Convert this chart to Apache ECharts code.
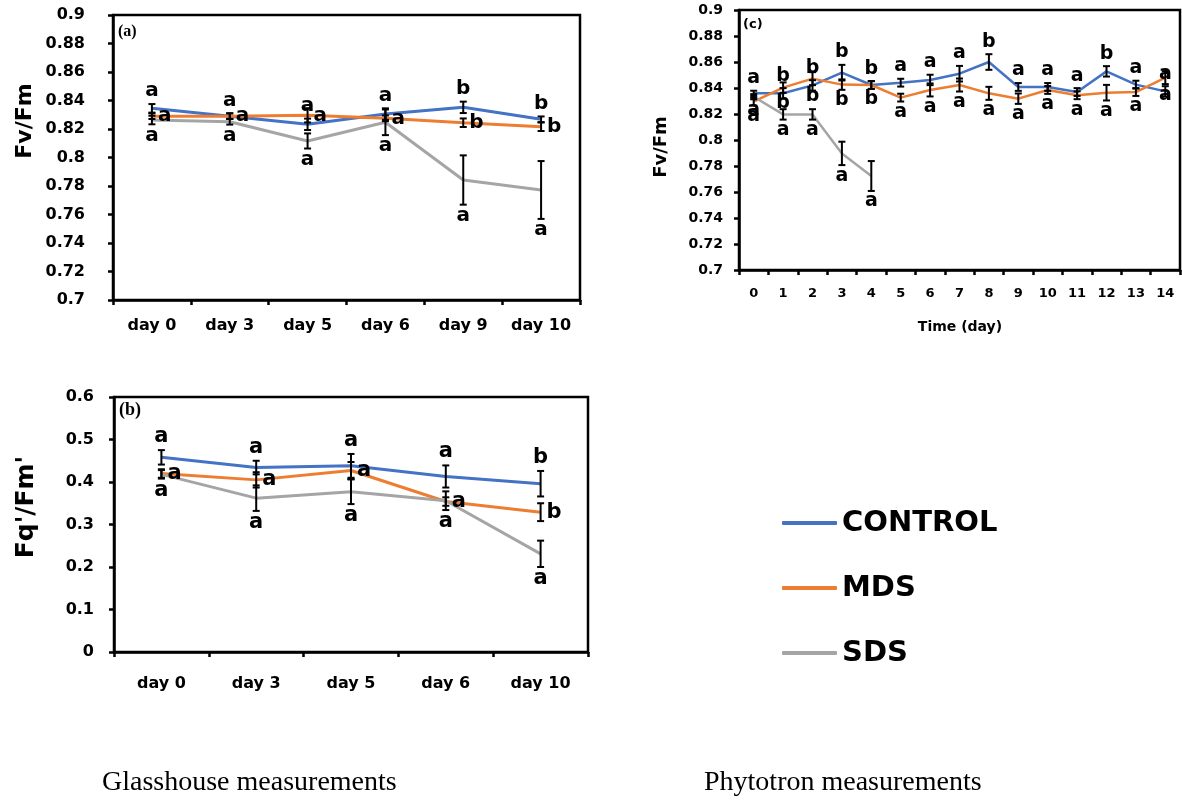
<!DOCTYPE html>
<html><head><meta charset="utf-8">
<script src="https://cdn.jsdelivr.net/npm/echarts@6/dist/echarts.min.js"></script>
<style>html,body{margin:0;padding:0;background:#fff}#c{width:1182px;height:800px}</style>
</head><body><div id="c"></div>
<script>
// ---------- Panel (a): Glasshouse Fv/Fm ----------
const catsA = ['day 0','day 3','day 5','day 6','day 9','day 10'];
const ctrlA = [0.8345, 0.829, 0.8233, 0.8305, 0.8352, 0.8268];
const mdsA  = [0.829, 0.829, 0.8296, 0.8275, 0.8244, 0.8216];
const sdsA  = [0.8263, 0.8251, 0.8116, 0.8247, 0.7842, 0.7772];
const ctrlErrA = [0.003, 0.002, 0.004, 0.004, 0.004, 0.002];
const mdsErrA  = [0.002, 0.002, 0.005, 0.002, 0.003, 0.003];
const sdsErrA  = [0.003, 0.002, 0.0053, 0.009, 0.0173, 0.0203];
const ctrlLetA = ['a','a','a','a','b','b'];
const mdsLetA  = ['a','a','a','a','b','b'];
const sdsLetA  = ['a','a','a','a','a','a'];

// ---------- Panel (b): Glasshouse Fq'/Fm' ----------
const catsB = ['day 0','day 3','day 5','day 6','day 10'];
const ctrlB = [0.458, 0.434, 0.438, 0.413, 0.396];
const mdsB  = [0.420, 0.405, 0.427, 0.354, 0.329];
const sdsB  = [0.418, 0.362, 0.377, 0.356, 0.231];
const ctrlErrB = [0.017, 0.016, 0.028, 0.026, 0.030];
const mdsErrB  = [0.010, 0.018, 0.020, 0.010, 0.021];
const sdsErrB  = [0.010, 0.030, 0.029, 0.022, 0.031];
const ctrlLetB = ['a','a','a','a','b'];
const mdsLetB  = ['a','a','a','a','b'];
const sdsLetB  = ['a','a','a','a','a'];

// ---------- Panel (c): Phytotron Fv/Fm ----------
const catsC = ['0','1','2','3','4','5','6','7','8','9','10','11','12','13','14'];
const ctrlC = [0.8359, 0.8359, 0.842, 0.8518, 0.8423, 0.8441, 0.8462, 0.851, 0.86, 0.8408, 0.8408, 0.8369, 0.8528, 0.8426, 0.8374];
const mdsC  = [0.8295, 0.8403, 0.8472, 0.8426, 0.8423, 0.8326, 0.8385, 0.8423, 0.8359, 0.8318, 0.8385, 0.8344, 0.8364, 0.8369, 0.848];
const sdsC  = [0.8333, 0.8197, 0.8197, 0.7897, 0.7723];
const ctrlErrC = [0.002, 0.004, 0.004, 0.006, 0.003, 0.003, 0.004, 0.006, 0.006, 0.003, 0.003, 0.003, 0.004, 0.003, 0.004];
const mdsErrC  = [0.003, 0.004, 0.005, 0.004, 0.003, 0.003, 0.005, 0.005, 0.005, 0.004, 0.003, 0.003, 0.006, 0.003, 0.005];
const sdsErrC  = [0.002, 0.004, 0.004, 0.009, 0.0115];
const ctrlLetC = ['a','b','b','b','b','a','a','a','b','a','a','a','b','a','a'];
const mdsLetC  = ['a','b','b','b','b','a','a','a','a','a','a','a','a','a','a'];
const sdsLetC  = ['a','a','a','a','a'];

const seriesNames = ['CONTROL','MDS','SDS'];
const colors = ['#4472C4','#ED7D31','#A5A5A5'];
const FF = "'DejaVu Sans', sans-serif";

function fmt(v){ return String(+(+v).toFixed(2)); }

function xAx(grid, cats, fs, margin){
  return {type:'category', gridIndex:grid, data:cats, boundaryGap:true,
    axisLine:{lineStyle:{color:'#000', width:2.5}},
    axisTick:{show:true, inside:false, length:5, alignWithLabel:false, lineStyle:{color:'#000', width:2.5}},
    axisLabel:{color:'#000', fontFamily:FF, fontWeight:'bold', fontSize:fs, margin:margin, interval:0},
    splitLine:{show:false}};
}
function yAx(grid, min, max, interval, fs, margin){
  return {type:'value', gridIndex:grid, min:min, max:max, interval:interval,
    axisLine:{show:true, lineStyle:{color:'#000', width:2.5}},
    axisTick:{show:true, inside:false, length:5, lineStyle:{color:'#000', width:2.5}},
    axisLabel:{color:'#000', fontFamily:FF, fontWeight:'bold', fontSize:fs, margin:margin, formatter:fmt},
    splitLine:{show:false}};
}
function lineS(name, grid, vals, color, w){
  return {type:'line', name:name, xAxisIndex:grid, yAxisIndex:grid, data:vals,
    showSymbol:false, symbol:'none', lineStyle:{color:color, width:w}, itemStyle:{color:color}, z:3, silent:true};
}
function errS(grid, vals, errs, letters, place, fs){
  return {type:'custom', xAxisIndex:grid, yAxisIndex:grid, silent:true, z:10,
    encode:{x:0, y:1},
    data: vals.map((v,i)=>[i, v, errs[i]]),
    renderItem: function(params, api){
      const i = api.value(0), v = api.value(1), e = api.value(2);
      const t = api.coord([i, v+e]), b = api.coord([i, v-e]), m = api.coord([i, v]);
      const x = t[0], cap = 3.5;
      const ls = {stroke:'#000', lineWidth:2};
      const ch = [
        {type:'line', shape:{x1:x,y1:t[1],x2:x,y2:b[1]}, style:ls},
        {type:'line', shape:{x1:x-cap,y1:t[1],x2:x+cap,y2:t[1]}, style:ls},
        {type:'line', shape:{x1:x-cap,y1:b[1],x2:x+cap,y2:b[1]}, style:ls}
      ];
      let tx, ty, ta, tv;
      if (place === 'top'){ tx = x; ty = t[1]-3; ta='center'; tv='bottom'; }
      else if (place === 'bottom'){ tx = x; ty = b[1]+1; ta='center'; tv='top'; }
      else { tx = x+6; ty = m[1]; ta='left'; tv='middle'; }
      ch.push({type:'text', x:tx, y:ty, style:{text:letters[i], fill:'#000',
        fontFamily:FF, fontWeight:'bold', fontSize:fs, align:ta, verticalAlign:tv}});
      return {type:'group', children:ch};
    }};
}

const chart = echarts.init(document.getElementById('c'), null, {renderer:'canvas'});
const gridStyle = {show:true, borderColor:'#000', borderWidth:2.5, backgroundColor:'transparent', containLabel:false};
chart.setOption({
  animation:false,
  backgroundColor:'#fff',
  grid:[
    Object.assign({left:113, top:15, width:467, height:285}, gridStyle),
    Object.assign({left:114, top:397, width:474, height:255}, gridStyle),
    Object.assign({left:739, top:10, width:441, height:260}, gridStyle)
  ],
  xAxis:[ xAx(0, catsA, 16, 18), xAx(1, catsB, 16, 24), xAx(2, catsC, 13, 17) ],
  yAxis:[ yAx(0, 0.7, 0.9, 0.02, 16, 28), yAx(1, 0, 0.6, 0.1, 16, 20), yAx(2, 0.7, 0.9, 0.02, 14, 16) ],
  legend:{data:seriesNames, orient:'vertical', left:782, top:506, padding:0, itemGap:31,
    icon:'roundRect', itemWidth:55, itemHeight:4,
    textStyle:{color:'#000', fontFamily:FF, fontWeight:'bold', fontSize:29, lineHeight:34}},
  series:[
    lineS('CONTROL',0,ctrlA,colors[0],3), lineS('MDS',0,mdsA,colors[1],3), lineS('SDS',0,sdsA,colors[2],3),
    lineS('CONTROL',1,ctrlB,colors[0],3), lineS('MDS',1,mdsB,colors[1],3), lineS('SDS',1,sdsB,colors[2],3),
    lineS('CONTROL',2,ctrlC,colors[0],2.5), lineS('MDS',2,mdsC,colors[1],2.5), lineS('SDS',2,sdsC,colors[2],2.5),
    errS(0, ctrlA, ctrlErrA, ctrlLetA, 'top', 20),
    errS(0, mdsA, mdsErrA, mdsLetA, 'right', 20),
    errS(0, sdsA, sdsErrA, sdsLetA, 'bottom', 20),
    errS(1, ctrlB, ctrlErrB, ctrlLetB, 'top', 21),
    errS(1, mdsB, mdsErrB, mdsLetB, 'right', 21),
    errS(1, sdsB, sdsErrB, sdsLetB, 'bottom', 21),
    errS(2, ctrlC, ctrlErrC, ctrlLetC, 'top', 19),
    errS(2, mdsC, mdsErrC, mdsLetC, 'bottom', 19),
    errS(2, sdsC, sdsErrC, sdsLetC, 'bottom', 19)
  ],
  graphic:[
    {type:'text', x:25, y:121, rotation:Math.PI/2, style:{text:'Fv/Fm', fill:'#000', fontFamily:FF, fontWeight:'bold', fontSize:22, align:'center', verticalAlign:'middle'}},
    {type:'text', x:26, y:507, rotation:Math.PI/2, style:{text:"Fq'/Fm'", fill:'#000', fontFamily:FF, fontWeight:'bold', fontSize:25, align:'center', verticalAlign:'middle'}},
    {type:'text', x:661, y:147, rotation:Math.PI/2, style:{text:'Fv/Fm', fill:'#000', fontFamily:FF, fontWeight:'bold', fontSize:18, align:'center', verticalAlign:'middle'}},
    {type:'text', x:960, y:327, style:{text:'Time (day)', fill:'#000', fontFamily:FF, fontWeight:'bold', fontSize:14, align:'center', verticalAlign:'middle'}},
    {type:'text', x:118, y:32, style:{text:'(a)', fill:'#000', fontFamily:"'Liberation Serif', serif", fontWeight:'bold', fontSize:16, align:'left', verticalAlign:'middle'}},
    {type:'text', x:119, y:410, style:{text:'(b)', fill:'#000', fontFamily:"'Liberation Serif', serif", fontWeight:'bold', fontSize:18, align:'left', verticalAlign:'middle'}},
    {type:'text', x:743, y:25, style:{text:'(c)', fill:'#000', fontFamily:FF, fontWeight:'bold', fontSize:13, align:'left', verticalAlign:'middle'}},
    {type:'text', x:102, y:783, style:{text:'Glasshouse measurements', fill:'#000', fontFamily:"'Liberation Serif', serif", fontSize:28, align:'left', verticalAlign:'middle'}},
    {type:'text', x:704, y:783, style:{text:'Phytotron measurements', fill:'#000', fontFamily:"'Liberation Serif', serif", fontSize:28, align:'left', verticalAlign:'middle'}}
  ]
});
</script></body></html>
